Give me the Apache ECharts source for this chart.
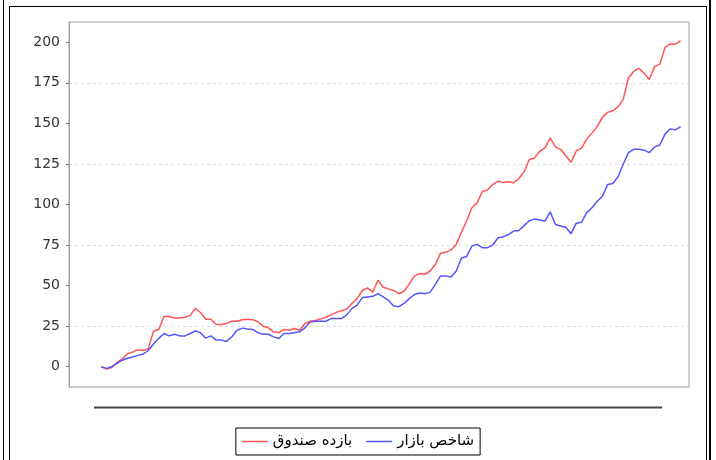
<!DOCTYPE html>
<html>
<head>
<meta charset="utf-8">
<script src="https://cdn.jsdelivr.net/npm/echarts@6/dist/echarts.min.js"></script>
<style>
  html, body { margin: 0; padding: 0; background: #fff; }
  #wrap { position: relative; width: 716px; height: 460px; overflow: hidden; }
  #chart { position: absolute; left: 0; top: 0; width: 716px; height: 460px; }
  .outer { position: absolute; left: 3px; top: 0; width: 705px; height: 480px;
    border-left: 1px solid #000; border-right: 2px solid #000; pointer-events: none; }
  .inner { position: absolute; left: 9px; top: 6px; width: 696px; height: 480px;
    border: 1px solid #000; pointer-events: none; }
</style>
</head>
<body>
<div id="wrap">
  <div id="chart"></div>
  <div class="outer"></div>
  <div class="inner"></div>
</div>
<script>
// series names
const seriesNames = ["بازده صندوق", "شاخص بازار"];

// y tick labels
const yTicks = [0, 25, 50, 75, 100, 125, 150, 175, 200];

// fund return (%), one value per sample along the period
const fundReturn = [
  0, -1.5, -0.5, 2.7, 4.7, 8, 9, 10.5, 10, 11,
  22, 23, 31, 31, 30, 30, 30.5, 31.5, 36, 33.4,
  29.3, 29.3, 26, 26, 26.7, 28, 28, 29, 29.3, 29,
  27.7, 25, 24, 21.5, 21, 23, 22.5, 23.6, 22.5, 26.6,
  28, 28.5, 29.5, 30.5, 32, 33.5, 34.5, 35.5, 39, 42,
  47, 48.6, 46, 53.3, 49, 48, 47, 45, 46.5, 51,
  56, 57.4, 57, 59, 63, 70, 70.5, 72, 75.4, 83,
  89.8, 98, 101, 108, 109, 112.3, 114.4, 113.5, 114, 113.4,
  116, 120, 127.7, 128.7, 132.8, 134.9, 141, 135.5, 134, 130,
  126, 133, 134.8, 140.3, 144, 148, 153.7, 156.8, 157.8, 160.2,
  165, 178, 182, 184, 181, 177, 185, 186.5, 196.7, 199,
  198.8, 201
];

// market index return (%)
const marketIndex = [
  0, -1, 0, 2, 4, 5.2, 6, 7, 7.8, 10,
  14, 17.5, 20.5, 19, 20, 19, 19, 20.5, 22, 21,
  17.6, 19, 16.4, 16.4, 15.6, 18.5, 22.5, 23.8, 23.2, 23,
  21, 20, 20, 18.4, 17.4, 20.5, 20.5, 21, 21.5, 24,
  27.5, 28, 28, 28, 29.7, 29.7, 29.7, 31.8, 35.8, 38,
  42.6, 43, 43.4, 45, 43, 41, 37.5, 37, 39, 42,
  44.5, 45.5, 45, 46, 50.8, 56, 56, 55.3, 59, 67,
  68, 74.4, 75.4, 73.4, 73.4, 75, 79.5, 80, 81.5, 83.6,
  84, 87, 90, 91, 90.5, 89.8, 95.5, 87.7, 86.7, 86,
  82, 88.5, 89, 95, 98, 102, 105, 112.3, 113, 117,
  125, 132, 134, 134, 133.5, 132, 135.5, 136.7, 143.4, 146.5,
  146, 148
];

const chart = echarts.init(document.getElementById("chart"));

const toPairs = arr => arr.map((v, i) => [i, v]);

const option = {
  animation: false,
  backgroundColor: "#fff",
  grid: {
    left: 69,
    top: 22,
    right: 27,
    bottom: 73,
    show: true,
    borderColor: "#a0a0a0",
    borderWidth: 1,
    backgroundColor: "#fff"
  },
  xAxis: {
    type: "value",
    min: -6.2,
    max: 112.6,
    show: false
  },
  yAxis: {
    type: "value",
    min: -12.5,
    max: 212.5,
    interval: 12.5,
    axisLine: { show: true, onZero: false, lineStyle: { color: "#a0a0a0" } },
    axisTick: {
      show: true,
      length: 3,
      customValues: yTicks,
      lineStyle: { color: "#777" }
    },
    axisLabel: {
      customValues: yTicks,
      color: "#333",
      fontSize: 14,
      fontFamily: "DejaVu Sans",
      margin: 9
    },
    splitLine: {
      show: true,
      lineStyle: {
        // only every second line (multiples of 25) is visible
        color: ["transparent", "#dcdcdc"],
        type: [3, 3],
        width: 1
      }
    }
  },
  legend: {
    data: seriesNames,
    top: 428,
    left: "center",
    icon: "rect",
    borderColor: "#000",
    borderWidth: 1,
    padding: [6, 6, 6, 6],
    itemGap: 14,
    itemWidth: 26,
    itemHeight: 1.5,
    textStyle: { fontSize: 15, fontFamily: "DejaVu Sans", color: "#000" }
  },
  graphic: [
    {
      type: "line",
      shape: { x1: 94, y1: 407.5, x2: 662, y2: 407.5 },
      style: { stroke: "#444", lineWidth: 2 }
    }
  ],
  series: [
    {
      name: seriesNames[0],
      type: "line",
      symbol: "none",
      data: toPairs(fundReturn),
      lineStyle: { color: "#ff5555", width: 1.5 },
      itemStyle: { color: "#ff5555" }
    },
    {
      name: seriesNames[1],
      type: "line",
      symbol: "none",
      data: toPairs(marketIndex),
      lineStyle: { color: "#5555ff", width: 1.5 },
      itemStyle: { color: "#5555ff" }
    }
  ]
};

chart.setOption(option);
</script>
</body>
</html>
